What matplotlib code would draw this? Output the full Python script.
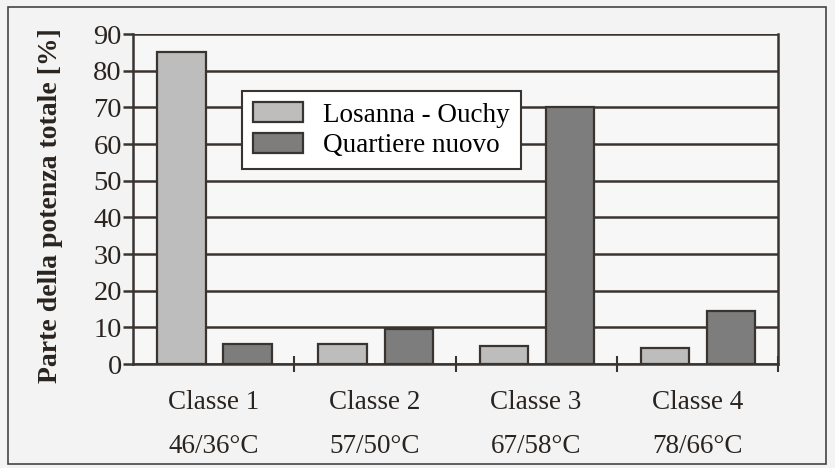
import matplotlib.pyplot as plt
import numpy as np
from matplotlib.patches import Rectangle

# Data
categories = ["Classe 1\n46/36°C", "Classe 2\n57/50°C", "Classe 3\n67/58°C", "Classe 4\n78/66°C"]
losanna = [85, 5.5, 5, 4.5]
quartiere = [5.5, 9.5, 70, 14.5]
series_names = ["Losanna - Ouchy", "Quartiere nuovo"]

ink = "#3a3430"
plt.rcParams['font.family'] = ['Liberation Serif', 'DejaVu Serif']

fig = plt.figure(figsize=(8.35, 4.68), dpi=100, facecolor="#f3f3f3")
ax = fig.add_axes([133 / 835, 1 - 364 / 468, (778 - 133) / 835, (364 - 34) / 468])
ax.set_facecolor("#f7f7f7")

x = np.arange(len(categories))
w = 0.30
ax.bar(x - 0.20, losanna, w, color="#bdbdbd", edgecolor=ink, linewidth=1.6,
       label=series_names[0], zorder=3)
ax.bar(x + 0.21, quartiere, w, color="#7d7d7d", edgecolor=ink, linewidth=1.6,
       label=series_names[1], zorder=3)

ax.set_xlim(-0.5, len(categories) - 0.5)
ax.set_ylim(0, 90)
ax.set_yticks(range(0, 91, 10))
ax.yaxis.grid(True, color=ink, linewidth=1.8, zorder=0)
ax.set_axisbelow(True)

# category separators on x axis
ax.set_xticks(np.arange(0.5, len(categories), 1.0))
ax.set_xticklabels([])
ax.set_xticks(x, minor=True)
ax.set_xticklabels(categories, minor=True, fontsize=19.5, linespacing=2.0)
ax.tick_params(axis='x', which='minor', length=0, pad=19, colors="#2a2420")
ax.tick_params(axis='x', which='major', direction='inout', length=12, width=1.5, color=ink)
ax.tick_params(axis='y', direction='out', length=7, width=1.8, color=ink,
               labelsize=20.5, labelcolor="#2a2420", pad=1)

for s in ['left', 'bottom', 'right']:
    ax.spines[s].set_color(ink)
    ax.spines[s].set_linewidth(1.8)
ax.spines['top'].set_visible(False)

ax.set_ylabel("Parte della potenza totale [%]", fontsize=20, fontweight='bold',
              color="#2a2420")
ax.yaxis.set_label_coords(-0.108, 0.48)

leg = ax.legend(loc='upper left', bbox_to_anchor=(0.169, 0.826), fontsize=19.5,
                frameon=True, fancybox=False, framealpha=1, edgecolor=ink,
                handlelength=1.85, handleheight=0.75, borderpad=0.4, labelspacing=0.2,
                handletextpad=0.75, borderaxespad=0)
leg.get_frame().set_linewidth(1.5)
leg.get_frame().set_facecolor("white")

# outer frame of the figure
fig.patches.append(Rectangle((8 / 835, 4 / 468), 818 / 835, 457 / 468, transform=fig.transFigure,
                             fill=False, edgecolor="#444444", linewidth=1.2))

fig.savefig("out.png", dpi=100, facecolor=fig.get_facecolor())
